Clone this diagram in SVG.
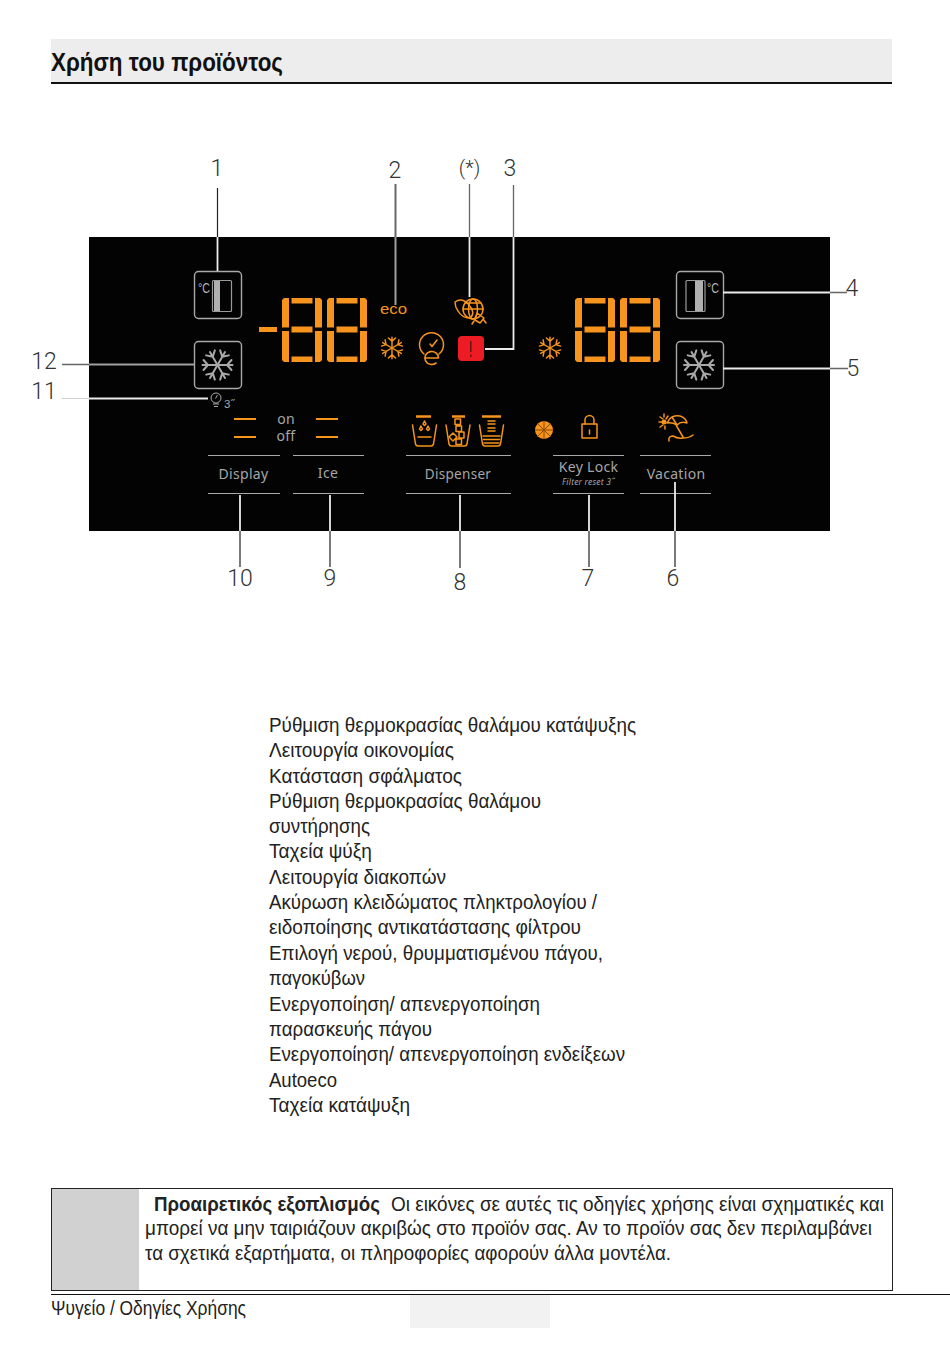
<svg xmlns="http://www.w3.org/2000/svg" xmlns:xlink="http://www.w3.org/1999/xlink" width="950" height="1348" viewBox="0 0 950 1348">
<style>
text{font-family:"Liberation Sans",Arial,sans-serif}
.b{font-size:20.5px;fill:#222}
.n{font-family:Roboto,"Liberation Sans",sans-serif;font-weight:300;font-size:23px;fill:#333;text-anchor:middle}
.p{font-family:"Noto Sans","Open Sans",sans-serif;fill:#a6a6a6;text-anchor:middle;font-size:14px;letter-spacing:.3px}
.btn{fill:#030303;stroke:#a9a9a9;stroke-width:1.4}
.sep{stroke:#a9a9a9;stroke-width:1.2;fill:none}
.o{fill:none;stroke:#f7941d;stroke-width:1.5;stroke-linecap:round;stroke-linejoin:round}
.sf{fill:#f7941d}
.wh{stroke:#ececec;stroke-width:1.8;fill:none}
.gr{stroke:#a0a0a0;stroke-width:2;fill:none}
</style>
<defs>
<g id="digit" class="sf">
<path d="M2 0H7V29.500H0V2Z"/><path d="M33 0H38L40 2V29.500H33Z"/>
<path d="M0 33H7V64H2L0 62Z"/><path d="M33 33H40V62L38 64H33Z"/>
<rect x="9.500" y="0" width="21" height="5.500"/><rect x="9.500" y="28.500" width="21" height="6"/><rect x="9.500" y="58.500" width="21" height="5.500"/>
</g>
<g id="arm"><path d="M0 0V-15M-5 -14 0 -9.500 5 -14"/></g>
<g id="flake" fill="none" stroke-linecap="round">
<use xlink:href="#arm"/><use xlink:href="#arm" transform="rotate(60)"/><use xlink:href="#arm" transform="rotate(120)"/><use xlink:href="#arm" transform="rotate(180)"/><use xlink:href="#arm" transform="rotate(240)"/><use xlink:href="#arm" transform="rotate(300)"/>
</g>
<g id="cup" class="o"><path d="M-12 -7 -9 12Q-8.500 14-6.500 14H6.500Q8.500 14 9 12L12 -7"/></g>
</defs>
<rect width="950" height="1348" fill="#fff"/>
<g id="header">
<rect x="51" y="39" width="841" height="44" fill="#ededed"/>
<line x1="51" y1="83" x2="892" y2="83" stroke="#111" stroke-width="2"/>
<text x="51" y="71" font-size="26" font-weight="700" fill="#111" textLength="232" lengthAdjust="spacingAndGlyphs">Χρήση του προϊόντος</text>
</g>
<rect id="panel" x="89" y="237" width="741" height="294" fill="#030303"/>
<g id="display-left">
<rect x="259" y="327" width="18" height="5" class="sf"/>
<use xlink:href="#digit" x="282" y="298"/><use xlink:href="#digit" x="327" y="298"/>
</g>
<g id="display-right">
<use xlink:href="#digit" x="575" y="298"/><use xlink:href="#digit" x="620" y="298"/>
</g>
<g id="node-1">
<rect class="btn" x="194.500" y="271.500" width="47" height="47" rx="4"/>
<text x="198" y="293" font-size="14" fill="#b5b5b5" textLength="12" lengthAdjust="spacingAndGlyphs">°C</text>
<rect x="212.500" y="280.500" width="19" height="31" rx="1" fill="none" stroke="#9a9a9a" stroke-width="1.200"/>
<rect x="214" y="281" width="6" height="30" fill="#b0b0b0"/>
</g>
<g id="node-12">
<rect class="btn" x="194.500" y="341.500" width="47" height="47" rx="4"/>
<use xlink:href="#flake" transform="translate(217.500 365) rotate(90)" stroke="#a9a9a9" stroke-width="2"/>
</g>
<g id="node-4">
<rect class="btn" x="676.500" y="271.500" width="47" height="47" rx="4"/>
<rect x="686" y="280.500" width="19" height="31" rx="1" fill="none" stroke="#9a9a9a" stroke-width="1.200"/>
<rect x="695" y="281" width="8" height="30" fill="#b0b0b0"/>
<text x="707" y="293" font-size="14" fill="#b5b5b5" textLength="12" lengthAdjust="spacingAndGlyphs">°C</text>
</g>
<g id="node-5">
<rect class="btn" x="676.500" y="341.500" width="47" height="47" rx="4"/>
<use xlink:href="#flake" transform="translate(699 365) rotate(90)" stroke="#a9a9a9" stroke-width="2"/>
</g>
<g id="node-2"><text x="393.500" y="314" font-size="15.500" fill="#f7941d" text-anchor="middle" textLength="27" lengthAdjust="spacingAndGlyphs">eco</text></g>
<g id="node-star" class="o" stroke-width="1.200">
<circle cx="473" cy="309" r="10"/><ellipse cx="473" cy="309" rx="4.500" ry="10"/><path d="M463 309H483M465 303H481"/>
<path d="M455 302Q462 297 469 305Q476 313 470 318Q462 318 458 311Q455 307 455 302Z"/>
<path d="M477 313 484 318 480 323 475 320Z M483 319 486 323M474 321 472 324"/>
</g>
<g id="snow-left"><use xlink:href="#flake" transform="translate(392 348) scale(.72)" stroke="#f7941d" stroke-width="2"/></g>
<g id="snow-right"><use xlink:href="#flake" transform="translate(550 348) scale(.72)" stroke="#f7941d" stroke-width="2"/></g>
<g id="autoeco" class="o">
<path d="M424 354A12 12 0 1 1 439 354"/><path d="M437 340 432 346.500 430 344"/>
<path d="M425 358H438.500A6.800 6.500 0 1 0 436 363" stroke-width="1.600"/>
</g>
<g id="node-3">
<rect x="458" y="336" width="26" height="25" rx="4" fill="#ed1c24"/>
<rect x="470" y="341" width="1.600" height="11" fill="#6e1414"/><rect x="470" y="354.500" width="1.600" height="2.500" fill="#6e1414"/>
</g>
<g id="node-11" fill="none" stroke="#a9a9a9" stroke-width="1">
<circle cx="216" cy="398" r="5"/><path d="M213 404H219M214 406.500H218M217.500 395 215.500 398.500"/>
<text x="224" y="408" font-size="11.500" fill="#a9a9a9" stroke="none">3˝</text>
</g>
<g id="node-10">
<path d="M234 419H256M234 437H256" stroke="#f7941d" stroke-width="2" fill="none"/>
<line class="sep" x1="208" y1="455.500" x2="280" y2="455.500"/><line class="sep" x1="208" y1="493.500" x2="280" y2="493.500"/>
<text class="p" x="243.500" y="479">Display</text>
</g>
<g id="onoff">
<text class="p" x="286" y="424">on</text><text class="p" x="286" y="441">off</text>
</g>
<g id="node-9">
<path d="M316 419H338M316 437H338" stroke="#f7941d" stroke-width="2" fill="none"/>
<line class="sep" x1="293" y1="455.500" x2="364" y2="455.500"/><line class="sep" x1="293" y1="493.500" x2="364" y2="493.500"/>
<text class="p" x="328" y="478">Ice</text>
</g>
<g id="node-8">
<path d="M416 416.500H431M452 416.500H465M482 416.500H501" stroke="#f7941d" stroke-width="2.500" fill="none"/>
<use xlink:href="#cup" transform="translate(424.500 432)"/>
<path class="o" stroke-width="1.200" d="M424.500 421 423 424 424.500 425.500 426 424ZM421 426 419.500 429 421 430.500 422.500 429ZM428 426 426.500 429 428 430.500 429.500 429Z"/>
<path class="o" d="M418 437H431" stroke-width="2.400"/>
<use xlink:href="#cup" transform="translate(458 432)"/>
<path class="o" d="M455 419H460.500V424.500H455ZM456 426H461.500V431.500H456ZM449 437 453 433 457 437 453 441ZM459 432H464V438H459ZM456 439H461.500V444.500H456Z" stroke-width="1"/>
<use xlink:href="#cup" transform="translate(491.500 432)"/>
<path class="o" d="M488 421H495M488 424H495M488 428H495M488 431H495M483 436H500M483.500 439.500H499.500M484 443H499" stroke-width="1.200"/>
<line class="sep" x1="406" y1="455.500" x2="511" y2="455.500"/><line class="sep" x1="406" y1="493.500" x2="511" y2="493.500"/>
<text class="p" x="458" y="479" style="font-size:13.500px">Dispenser</text>
</g>
<g id="citrus">
<circle cx="544" cy="430" r="9" fill="#f7941d"/>
<path d="M544 421V439M535 430H553M537.600 423.600 550.400 436.400M550.400 423.600 537.600 436.400" stroke="#8a4a00" stroke-width="1"/>
</g>
<g id="node-7">
<rect x="582" y="424" width="15" height="14" class="o"/>
<path class="o" d="M585 424V420A4.500 4.500 0 0 1 594 420V424"/><path class="o" d="M589.500 430V434"/>
<line class="sep" x1="553" y1="455.500" x2="624" y2="455.500"/><line class="sep" x1="553" y1="493.500" x2="624" y2="493.500"/>
<text class="p" x="588.500" y="472">Key Lock</text>
<text class="p" x="588.500" y="485" style="font-size:8.500px;letter-spacing:.2px" font-style="italic">Filter reset 3˝</text>
</g>
<g id="node-6">
<path class="o" stroke-width="1.300" d="M667 423Q671 414 680 416Q686 418 687 423Q681 421 677 425Q672 422 667 423ZM672 417 677 425M676 425 683 437M669 441Q668 436 673 436Q678 439 683 438Q689 438 693 435"/>
<path class="o" stroke-width="1.100" d="M659 422H662M660 417 663 419M664 414V417M668 416 666 419M660 427 663 425M665 429 665 426"/>
<circle cx="664" cy="422" r="2.500" fill="#f7941d"/>
<line class="sep" x1="640" y1="455.500" x2="711" y2="455.500"/><line class="sep" x1="640" y1="493.500" x2="711" y2="493.500"/>
<text class="p" x="676" y="479">Vacation</text>
</g>
<g id="connectors">
<path fill="none" stroke="#222" stroke-width="1.200" d="M217.500 188V237M240 531V567M330 531V567M460 531V568M589 531V567M675 531V567"/>
<path fill="none" stroke="#666" stroke-width="2" d="M395.500 184V237"/>
<path fill="none" stroke="#666" stroke-width="1.300" d="M469.500 184V237M513.500 185V237M830 292.500H847M830 368.500H848M62 364.500H89"/>
<path fill="none" stroke="#d0d0d0" stroke-width="1" d="M62 398.500H89"/>
<path class="wh" d="M217.500 237V271M469.500 237V297M513.500 237V349H485M723 292.500H830M723 368.500H830M89 398.500H208M240 495V531M330 495V531M460 495V531M589 495V531M675 482V531"/>
<path class="gr" d="M395.500 237V305M89 364.500H194"/>
</g>
<g id="numbers">
<text class="n" x="217" y="175.500">1</text><text class="n" x="395" y="178">2</text><text class="n" x="469.500" y="175" style="font-size:20px">(*)</text><text class="n" x="510" y="175.500">3</text>
<text class="n" x="852" y="296">4</text><text class="n" x="853" y="376">5</text><text class="n" x="44" y="369">12</text><text class="n" x="44" y="399">11</text>
<text class="n" x="240" y="586">10</text><text class="n" x="330" y="586">9</text><text class="n" x="460" y="590">8</text><text class="n" x="588" y="586">7</text><text class="n" x="673" y="586">6</text>
</g>
<g id="legend" class="b">
<text x="269" y="732" textLength="367" lengthAdjust="spacingAndGlyphs">Ρύθμιση θερμοκρασίας θαλάμου κατάψυξης</text>
<text x="269" y="757" textLength="185" lengthAdjust="spacingAndGlyphs">Λειτουργία οικονομίας</text>
<text x="269" y="783" textLength="193" lengthAdjust="spacingAndGlyphs">Κατάσταση σφάλματος</text>
<text x="269" y="808" textLength="272" lengthAdjust="spacingAndGlyphs">Ρύθμιση θερμοκρασίας θαλάμου</text>
<text x="269" y="833" textLength="101" lengthAdjust="spacingAndGlyphs">συντήρησης</text>
<text x="269" y="858" textLength="103" lengthAdjust="spacingAndGlyphs">Ταχεία ψύξη</text>
<text x="269" y="884" textLength="177" lengthAdjust="spacingAndGlyphs">Λειτουργία διακοπών</text>
<text x="269" y="909" textLength="328" lengthAdjust="spacingAndGlyphs">Ακύρωση κλειδώματος πληκτρολογίου /</text>
<text x="269" y="934" textLength="312" lengthAdjust="spacingAndGlyphs">ειδοποίησης αντικατάστασης φίλτρου</text>
<text x="269" y="960" textLength="334" lengthAdjust="spacingAndGlyphs">Επιλογή νερού, θρυμματισμένου πάγου,</text>
<text x="269" y="985" textLength="96" lengthAdjust="spacingAndGlyphs">παγοκύβων</text>
<text x="269" y="1011" textLength="271" lengthAdjust="spacingAndGlyphs">Ενεργοποίηση/ απενεργοποίηση</text>
<text x="269" y="1036" textLength="163" lengthAdjust="spacingAndGlyphs">παρασκευής πάγου</text>
<text x="269" y="1061" textLength="356" lengthAdjust="spacingAndGlyphs">Ενεργοποίηση/ απενεργοποίηση ενδείξεων</text>
<text x="269" y="1087" textLength="68" lengthAdjust="spacingAndGlyphs">Autoeco</text>
<text x="269" y="1112" textLength="141" lengthAdjust="spacingAndGlyphs">Ταχεία κατάψυξη</text>
</g>
<g id="note">
<rect x="52" y="1189" width="87" height="101" fill="#d1d1d1"/>
<rect x="51.500" y="1188.500" width="841" height="102" fill="none" stroke="#222" stroke-width="1"/>
<text class="b" x="154" y="1211" font-weight="700" textLength="226" lengthAdjust="spacingAndGlyphs">Προαιρετικός εξοπλισμός</text>
<text class="b" x="391" y="1211" textLength="493" lengthAdjust="spacingAndGlyphs">Οι εικόνες σε αυτές τις οδηγίες χρήσης είναι σχηματικές και</text>
<text class="b" x="145" y="1235" textLength="727" lengthAdjust="spacingAndGlyphs">μπορεί να μην ταιριάζουν ακριβώς στο προϊόν σας. Αν το προϊόν σας δεν περιλαμβάνει</text>
<text class="b" x="145" y="1260" textLength="526" lengthAdjust="spacingAndGlyphs">τα σχετικά εξαρτήματα, οι πληροφορίες αφορούν άλλα μοντέλα.</text>
</g>
<g id="footer">
<rect x="410" y="1295" width="140" height="33" fill="#f2f2f2"/>
<rect x="51" y="1294" width="899" height="1" fill="#111"/>
<text class="b" x="51" y="1315" textLength="195" lengthAdjust="spacingAndGlyphs">Ψυγείο / Οδηγίες Χρήσης</text>
</g>
</svg>
